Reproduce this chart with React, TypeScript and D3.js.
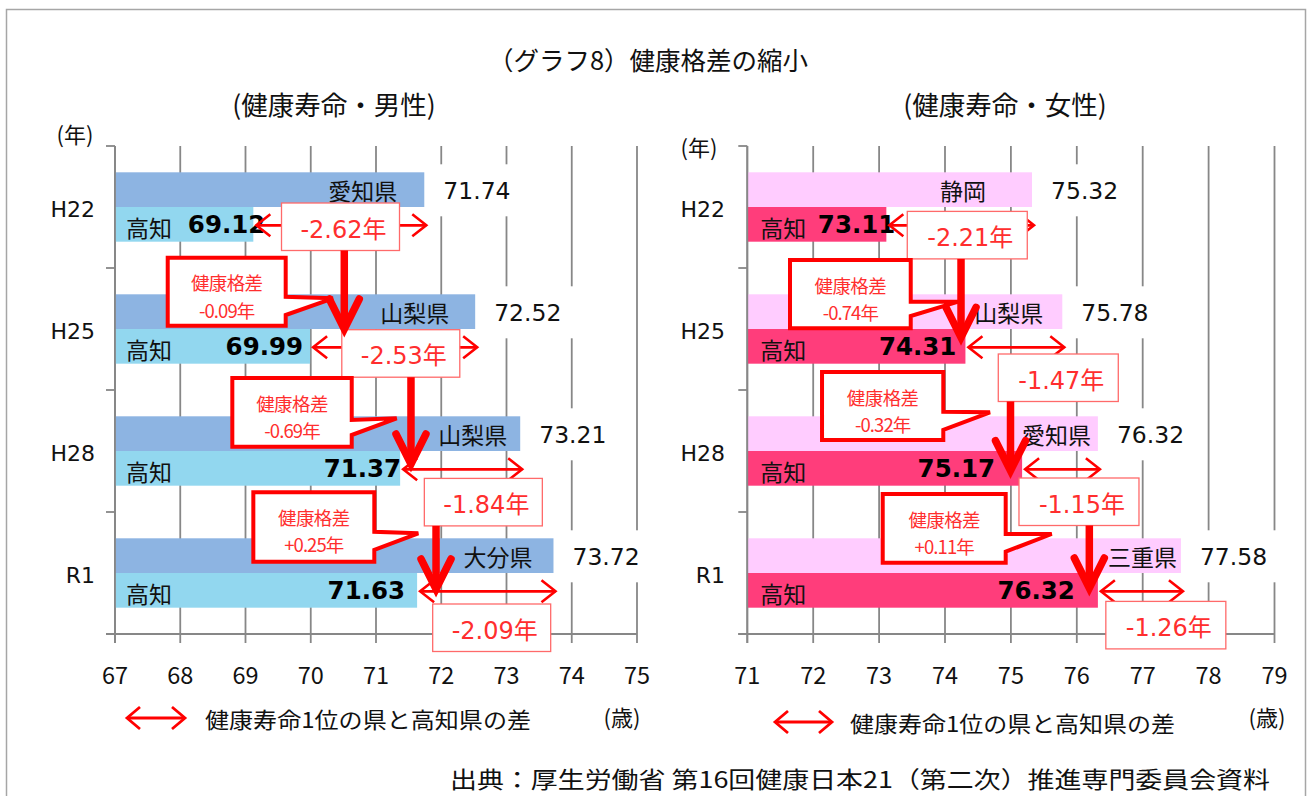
import React from 'react';
import * as d3 from 'd3';

// ---------- data ----------
const years = ['H22', 'H25', 'H28', 'R1'];

const malePrefs = ['愛知県', '山梨県', '山梨県', '大分県'];
const maleTop = [71.74, 72.52, 73.21, 73.72];
const maleKochi = [69.12, 69.99, 71.37, 71.63];
const maleGapLabels = ['-2.62年', '-2.53年', '-1.84年', '-2.09年'];
const maleDiffLabels = ['-0.09年', '-0.69年', '+0.25年'];
const maleTicks = [67, 68, 69, 70, 71, 72, 73, 74, 75];

const femalePrefs = ['静岡', '山梨県', '愛知県', '三重県'];
const femaleTop = [75.32, 75.78, 76.32, 77.58];
const femaleKochi = [73.11, 74.31, 75.17, 76.32];
const femaleGapLabels = ['-2.21年', '-1.47年', '-1.15年', '-1.26年'];
const femaleDiffLabels = ['-0.74年', '-0.32年', '+0.11年'];
const femaleTicks = [71, 72, 73, 74, 75, 76, 77, 78, 79];

const kochiName = '高知';
const diffTitle = '健康格差';

// ---------- layout / style ----------
const FONT_JP = '"Noto Sans CJK JP", "Noto Sans", sans-serif';
const FONT_NUM = '"DejaVu Sans", "Noto Sans CJK JP", sans-serif';
const RED = '#FF0000';
const RED_TEXT = '#FF2E2E';
const GRID = '#878787';
const PLOT_TOP = 146;
const PLOT_BOTTOM = 634;

type Callout = { l: number; r: number; t: number; b: number; a1: number; a2: number; tx: number; ty: number };
type Cfg = {
  domain: [number, number];
  range: [number, number];
  topColor: string;
  kochiColor: string;
  nameInset: number[];
  kochiLabelShift: number[];
  gapBox: [number, number][];
  vArrow: [number, number][];
  callouts: Callout[];
  gapBoxW: number;
  yearLabelRight: number;
  kochiTextX: number;
};

const maleCfg: Cfg = {
  domain: [67, 75],
  range: [115, 637],
  topColor: '#8DB4E2',
  kochiColor: '#92D7EF',
  nameInset: [27, 26, 13, 21],
  kochiLabelShift: [12, -7, 1, -12],
  gapBox: [[70.456, -4], [71.38, 0.7], [72.645, 27.4], [72.773, 31]],
  vArrow: [[70.514, 0], [71.536, 13], [71.92, 16]],
  callouts: [
    { l: 67.808, r: 69.616, t: -36.6, b: 31.4, a1: 2.4, a2: 20.7, tx: 70.341, ty: 4 },
    { l: 68.798, r: 70.628, t: -38.3, b: 30.4, a1: 3.7, a2: 18.7, tx: 71.317, ty: 2 },
    { l: 69.12, r: 70.974, t: -46, b: 23.4, a1: -6.6, a2: 11.7, tx: 71.648, ty: -5 },
  ],
  gapBoxW: 118,
  yearLabelRight: 95,
  kochiTextX: 11,
};

const femaleCfg: Cfg = {
  domain: [71, 79],
  range: [747.3, 1274.5],
  topColor: '#FFCCFF',
  kochiColor: '#FF3D7B',
  nameInset: [46, 19, 7, 4],
  kochiLabelShift: [9, -9, -27, -23],
  gapBox: [[74.338, 4.4], [75.719, 25], [76.033, 27], [77.351, 28.4]],
  vArrow: [[74.243, 8.4], [74.994, 19.7], [76.19, 15]],
  callouts: [
    { l: 71.648, r: 73.48, t: -34.3, b: 34, a1: 7.4, a2: 21.7, tx: 74.202, ty: 7.4 },
    { l: 72.134, r: 73.974, t: -44.3, b: 23.7, a1: -4.6, a2: 13.7, tx: 74.683, ty: -4 },
    { l: 73.055, r: 74.921, t: -44.3, b: 24.4, a1: -4.3, a2: 13.4, tx: 75.619, ty: -4.3 },
  ],
  gapBoxW: 120,
  yearLabelRight: 725,
  kochiTextX: 13,
};

function DoubleArrow({ x1, x2, y, head = 14, half = 11, width = 2.6 }: any) {
  return (
    <g stroke={RED} strokeWidth={width} fill="none" strokeLinecap="butt" strokeLinejoin="miter">
      <line x1={x1} y1={y} x2={x2} y2={y} />
      <polyline points={`${x1 + head},${y - half} ${x1},${y} ${x1 + head},${y + half}`} />
      <polyline points={`${x2 - head},${y - half} ${x2},${y} ${x2 - head},${y + half}`} />
    </g>
  );
}

function Panel({ cfg, prefs, top, kochi, gapLabels, diffLabels, ticks }: any) {
  const c: Cfg = cfg;
  const x = d3.scaleLinear().domain(c.domain).range(c.range);
  const y = d3
    .scaleBand<string>()
    .domain(years)
    .range([PLOT_TOP, PLOT_BOTTOM])
    .paddingInner(0.4312)
    .paddingOuter(0.2156);
  const bw = y.bandwidth();
  const sub = d3.scaleBand<string>().domain(['top', 'kochi']).range([0, bw]);
  const bh = sub.bandwidth();
  const step = y.step();
  const po = y.paddingOuter() * step;
  const boundaries = years.map((d) => (y(d) as number) - po).concat([PLOT_BOTTOM]);
  const x0 = c.range[0];
  const x1 = c.range[1];
  const topY = (i: number) => (y(years[i]) as number) + (sub('top') as number);
  const kochiY = (i: number) => (y(years[i]) as number) + (sub('kochi') as number);
  const boxH = 47.5;

  return (
    <g>
      {/* gridlines */}
      {ticks.map((t: number) => (
        <line key={'g' + t} x1={x(t)} x2={x(t)} y1={PLOT_TOP} y2={PLOT_BOTTOM + 9} stroke={GRID} strokeWidth={1.8} />
      ))}
      {/* y axis ticks */}
      {boundaries.map((b, i) => (
        <line key={'yt' + i} x1={x0 - 9} x2={x0} y1={b} y2={b} stroke={GRID} strokeWidth={1.8} />
      ))}
      <line x1={x0 - 9} x2={x1} y1={PLOT_BOTTOM} y2={PLOT_BOTTOM} stroke={GRID} strokeWidth={1.8} />

      {/* bars */}
      {years.map((yr, i) => (
        <g key={'b' + yr}>
          <rect x={x0} y={topY(i)} width={x(top[i]) - x0} height={bh} fill={c.topColor} />
          <rect x={x0} y={kochiY(i)} width={x(kochi[i]) - x0} height={bh} fill={c.kochiColor} />
        </g>
      ))}

      {/* white backgrounds of value labels */}
      {years.map((yr, i) => (
        <rect key={'wb' + yr} x={x(top[i]) + 1} y={topY(i) - 8} width={105} height={52} fill="#fff" />
      ))}

      {/* axis line on top of bars */}
      <line x1={x0} x2={x0} y1={PLOT_TOP} y2={PLOT_BOTTOM + 9} stroke={GRID} strokeWidth={1.8} />

      {/* texts in bars */}
      {years.map((yr, i) => (
        <g key={'t' + yr}>
          <text
            x={x(top[i]) - c.nameInset[i]}
            y={topY(i) + bh / 2}
            dominantBaseline="central"
            textAnchor="end"
            fontFamily={FONT_JP}
            fontSize={23}
            fill="#111"
          >
            {prefs[i]}
          </text>
          <text x={x(top[i]) + 19} y={topY(i) + 27} fontFamily={FONT_NUM} fontSize={23.5} fill="#111">
            {top[i].toFixed(2)}
          </text>
          <text
            x={x0 + c.kochiTextX}
            y={kochiY(i) + bh / 2 + 3}
            dominantBaseline="central"
            fontFamily={FONT_JP}
            fontSize={23}
            fill="#111"
          >
            {kochiName}
          </text>
          <text
            x={x(kochi[i]) + c.kochiLabelShift[i]}
            y={kochiY(i) + 26}
            textAnchor="end"
            fontFamily={FONT_NUM}
            fontWeight="bold"
            fontSize={24.5}
            fill="#000"
          >
            {kochi[i].toFixed(2)}
          </text>
          <text
            x={c.yearLabelRight}
            y={(y(yr) as number) + bw / 2 + 10}
            textAnchor="end"
            fontFamily={FONT_NUM}
            fontSize={22}
            fill="#111"
          >
            {yr}
          </text>
        </g>
      ))}

      {/* horizontal difference arrows */}
      {years.map((yr, i) => (
        <DoubleArrow key={'da' + yr} x1={x(kochi[i]) + 3} x2={x(top[i]) + 2} y={kochiY(i) + bh / 2 + 1} />
      ))}

      {/* gap boxes */}
      {years.map((yr, i) => {
        const cx = x(c.gapBox[i][0]);
        const ty = kochiY(i) + c.gapBox[i][1];
        return (
          <g key={'gb' + yr}>
            <rect x={cx - c.gapBoxW / 2} y={ty} width={c.gapBoxW} height={boxH} fill="#fff" stroke="#FF6A6A" strokeWidth={1.3} />
            <text x={cx + 3} y={ty + 34.5} textAnchor="middle" fontFamily={FONT_NUM} fontSize={24} fill={RED_TEXT}>
              {gapLabels[i]}
            </text>
          </g>
        );
      })}

      {/* vertical thick arrows */}
      {c.vArrow.map((va, i) => {
        const ax = x(va[0]);
        const y1 = kochiY(i) + c.gapBox[i][1] + boxH;
        const tip = kochiY(i + 1) + va[1];
        return (
          <g key={'va' + i} stroke={RED} fill="none">
            <line x1={ax} x2={ax} y1={y1} y2={tip - 6} strokeWidth={7.5} />
            <polyline
              points={`${ax - 15},${tip - 30} ${ax},${tip} ${ax + 15},${tip - 30}`}
              strokeWidth={7.5}
              strokeLinecap="round"
              strokeLinejoin="miter"
            />
          </g>
        );
      })}

      {/* callouts */}
      {c.callouts.map((co, i) => {
        const base = y(years[i + 1]) as number;
        const l = x(co.l);
        const r = x(co.r);
        const t = base + co.t;
        const b = base + co.b;
        const d = `M${l},${t} L${r},${t} L${r},${base + co.a1} L${x(co.tx)},${base + co.ty} L${r},${base + co.a2} L${r},${b} L${l},${b} Z`;
        const cx = (l + r) / 2;
        return (
          <g key={'co' + i}>
            <path d={d} fill="#fff" stroke={RED} strokeWidth={4} strokeLinejoin="miter" />
            <text x={cx} y={t + 32.5} textAnchor="middle" fontFamily={FONT_JP} fontSize={18.5} fill={RED_TEXT} letterSpacing={-0.6}>
              {diffTitle}
            </text>
            <text x={cx} y={t + 60} textAnchor="middle" fontFamily={FONT_JP} fontSize={18.5} fill={RED_TEXT} letterSpacing={-0.9}>
              {diffLabels[i]}
            </text>
          </g>
        );
      })}

      {/* x tick labels */}
      {ticks.map((t: number) => (
        <text key={'tl' + t} x={x(t)} y={684} textAnchor="middle" fontFamily={FONT_JP} fontSize={23.5} fill="#111">
          {t}
        </text>
      ))}
    </g>
  );
}

export default function App() {
  return (
    <svg width={1312} height={796} style={{ position: 'absolute', left: 0, top: 0, background: '#fff' }}>
      <rect x={0} y={0} width={1312} height={796} fill="#fff" />
      <rect x={6.5} y={9.5} width={1299} height={820} fill="none" stroke="#A6A6A6" strokeWidth={1.5} />

      <text x={648} y={58} dominantBaseline="central" textAnchor="middle" fontFamily={FONT_JP} fontSize={25.5} fill="#111">
        （グラフ8）健康格差の縮小
      </text>
      <text x={334} y={103} dominantBaseline="central" textAnchor="middle" fontFamily={FONT_JP} fontSize={26.5} fill="#111">
        (健康寿命・男性)
      </text>
      <text x={1005} y={103} dominantBaseline="central" textAnchor="middle" fontFamily={FONT_JP} fontSize={26.5} fill="#111">
        (健康寿命・女性)
      </text>
      <text x={75} y={133} dominantBaseline="central" textAnchor="middle" fontFamily={FONT_JP} fontSize={22} fill="#111">
        (年)
      </text>
      <text x={699} y={146} dominantBaseline="central" textAnchor="middle" fontFamily={FONT_JP} fontSize={22} fill="#111">
        (年)
      </text>

      <Panel
        cfg={maleCfg}
        prefs={malePrefs}
        top={maleTop}
        kochi={maleKochi}
        gapLabels={maleGapLabels}
        diffLabels={maleDiffLabels}
        ticks={maleTicks}
      />
      <Panel
        cfg={femaleCfg}
        prefs={femalePrefs}
        top={femaleTop}
        kochi={femaleKochi}
        gapLabels={femaleGapLabels}
        diffLabels={femaleDiffLabels}
        ticks={femaleTicks}
      />

      {/* legends */}
      <DoubleArrow x1={127} x2={185} y={718} head={13} half={11} width={2.8} />
      <text x={205} y={718} dominantBaseline="central" fontFamily={FONT_JP} fontSize={22} fill="#111" textLength={326} lengthAdjust="spacingAndGlyphs">
        健康寿命1位の県と高知県の差
      </text>
      <text x={622} y={716} dominantBaseline="central" textAnchor="middle" fontFamily={FONT_JP} fontSize={22} fill="#111">
        (歳)
      </text>
      <DoubleArrow x1={775} x2={832} y={722} head={13} half={11} width={2.8} />
      <text x={850} y={722} dominantBaseline="central" fontFamily={FONT_JP} fontSize={22} fill="#111" textLength={325} lengthAdjust="spacingAndGlyphs">
        健康寿命1位の県と高知県の差
      </text>
      <text x={1267} y={716} dominantBaseline="central" textAnchor="middle" fontFamily={FONT_JP} fontSize={22} fill="#111">
        (歳)
      </text>

      <text x={450} y={778} dominantBaseline="central" fontFamily={FONT_JP} fontSize={23} fill="#111" textLength={820} lengthAdjust="spacingAndGlyphs">
        出典：厚生労働省 第16回健康日本21（第二次）推進専門委員会資料
      </text>
    </svg>
  );
}
